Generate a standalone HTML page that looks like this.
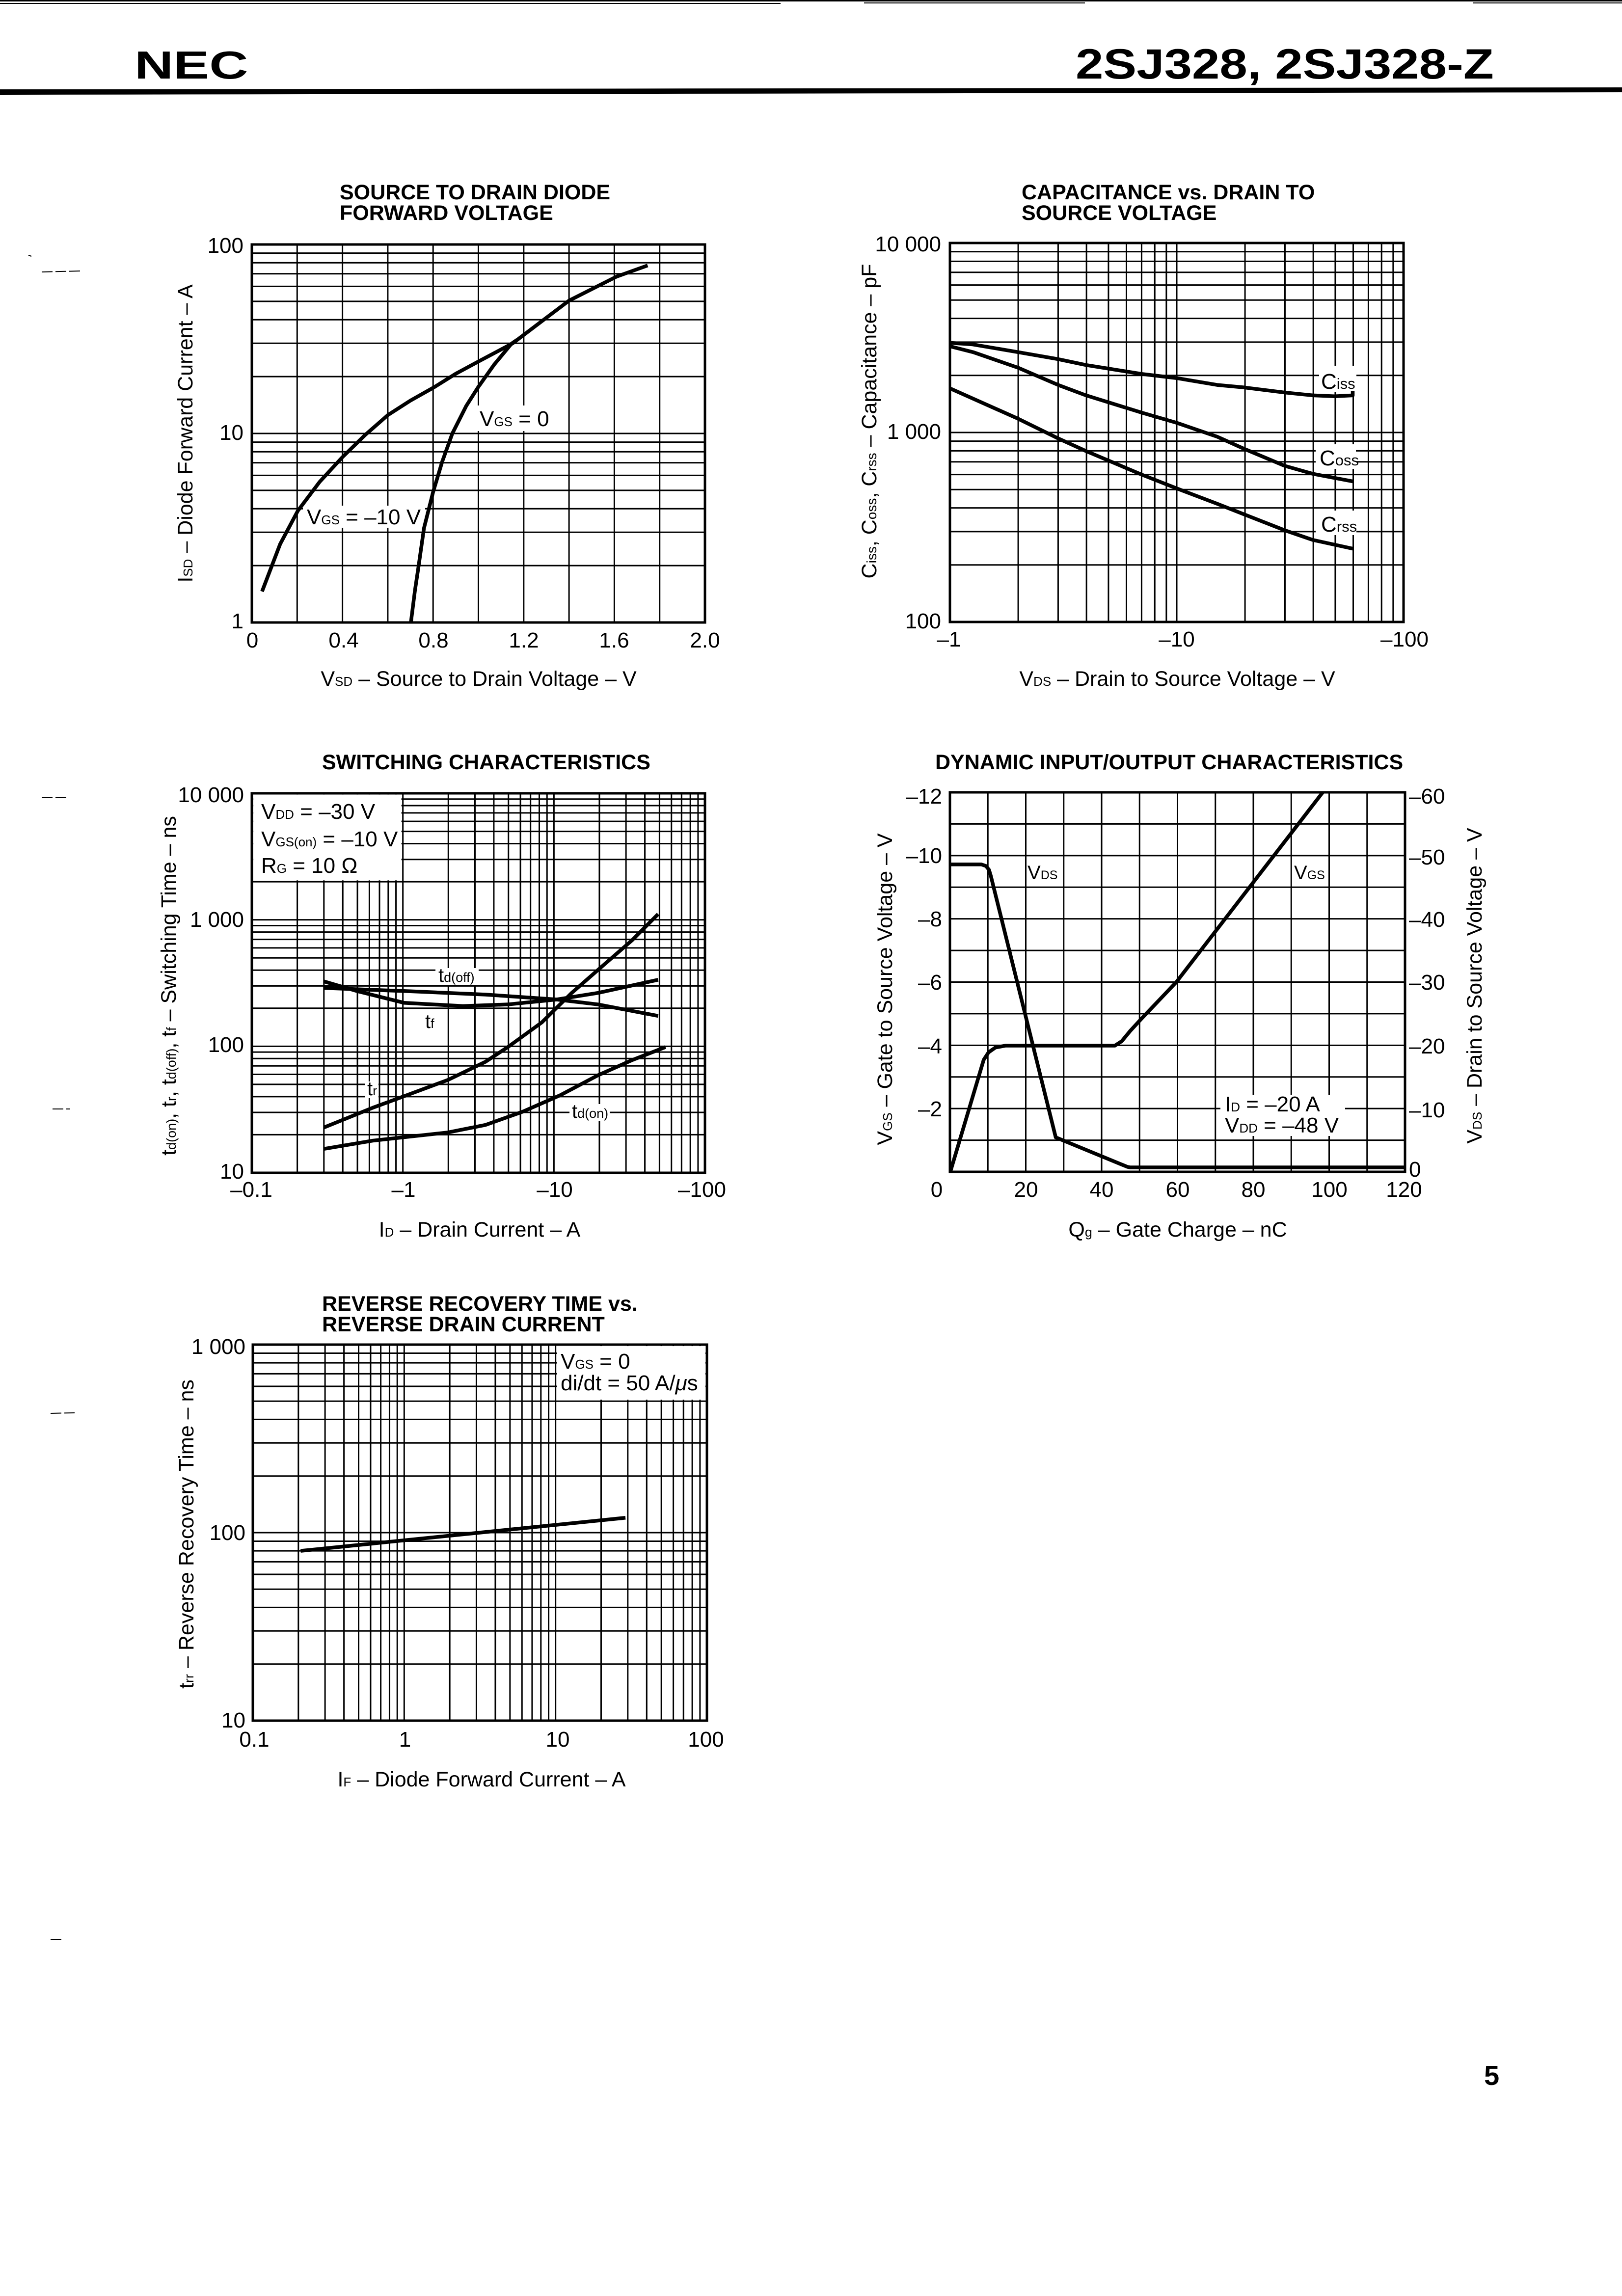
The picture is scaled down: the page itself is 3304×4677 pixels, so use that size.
<!DOCTYPE html>
<html><head><meta charset="utf-8">
<style>
html,body{margin:0;padding:0;background:#fff;}
svg{display:block;}
.g path,.g polyline{vector-effect:non-scaling-stroke;fill:none;stroke:#000;}
text{font-family:"Liberation Sans",Arial,sans-serif;fill:#000;}
</style></head><body>
<svg width="3304" height="4677" viewBox="0 0 3304 4677" xmlns="http://www.w3.org/2000/svg">
<rect width="3304" height="4677" fill="#fff"/>

<!-- header -->
<rect x="0" y="0" width="3304" height="3" fill="#000"/>
<rect x="0" y="6" width="1590" height="2" fill="#000"/>
<rect x="1760" y="5" width="450" height="2" fill="#000"/>
<rect x="3000" y="5" width="304" height="2" fill="#000"/>
<polygon points="0,182 3304,178 3304,188 0,193" fill="#000"/>
<text transform="translate(274,160) scale(1.37,1)" font-size="80" font-weight="bold">NEC</text>
<text transform="translate(2191,160) scale(1.18,1)" font-size="86" font-weight="bold">2SJ328, 2SJ328-Z</text>

<!-- margin marks -->
<g stroke="#000" stroke-width="2" stroke-dasharray="22 6">
<line x1="85" y1="554" x2="163" y2="552"/>
<line x1="85" y1="1625" x2="137" y2="1625"/>
<line x1="107" y1="2259" x2="143" y2="2259"/>
<line x1="103" y1="2879" x2="152" y2="2878"/>
<line x1="103" y1="3951" x2="128" y2="3951"/>
</g>
<line x1="58" y1="520" x2="64" y2="522" stroke="#000" stroke-width="2"/>

<!-- ================= CHART 1 ================= -->
<text x="692" y="406" font-size="43" font-weight="bold">SOURCE TO DRAIN DIODE</text>
<text x="692" y="448" font-size="43" font-weight="bold">FORWARD VOLTAGE</text>
<svg class="g" x="513" y="498" width="923" height="770" viewBox="0 0 10 2" preserveAspectRatio="none" overflow="visible">
<path stroke-width="3" d="M1 0V2M2 0V2M3 0V2M4 0V2M5 0V2M6 0V2M7 0V2M8 0V2M9 0V2"/>
<path stroke-width="3" d="M0 .04576H10M0 .09691H10M0 .1549H10M0 .22185H10M0 .30103H10M0 .39794H10M0 .52288H10M0 .69897H10M0 1H10M0 1.04576H10M0 1.09691H10M0 1.1549H10M0 1.22185H10M0 1.30103H10M0 1.39794H10M0 1.52288H10M0 1.69897H10"/>
</svg>
<rect x="617" y="1030" width="249" height="45" fill="#fff"/>
<rect x="968" y="826" width="182" height="52" fill="#fff"/>
<rect x="513" y="498" width="923" height="770" fill="none" stroke="#000" stroke-width="5"/>
<svg class="g" x="513" y="498" width="923" height="770" viewBox="0 0 10 2" preserveAspectRatio="none" overflow="visible">
<polyline stroke-width="7.5" stroke-linejoin="round" points="0.225,1.836 0.625,1.585 1.015,1.409 1.5,1.255 2.0,1.125 2.5,1.008 3.0,0.903 3.5,0.826 4.025,0.755 4.5,0.684 5.025,0.616 5.75,0.524 6.35,0.415 7.0,0.297 8.05,0.170 8.735,0.111"/>
<polyline stroke-width="7.5" stroke-linejoin="round" points="3.51,2.0 3.6,1.83 3.675,1.71 3.8,1.5 4.0,1.31 4.2,1.15 4.425,1.0 4.73,0.855 5.0,0.753 5.35,0.635 5.73,0.525 5.85,0.505"/>
</svg>
<text x="625" y="1068" font-size="44">V<tspan font-size="26">GS</tspan> = –10 V</text>
<text x="977" y="868" font-size="44">V<tspan font-size="26">GS</tspan> = 0</text>
<g font-size="44" text-anchor="end">
<text x="496" y="515">100</text><text x="496" y="896">10</text><text x="496" y="1280">1</text>
</g>
<g font-size="44" text-anchor="middle">
<text x="514" y="1319">0</text><text x="700" y="1319">0.4</text><text x="883" y="1319">0.8</text><text x="1067" y="1319">1.2</text><text x="1251" y="1319">1.6</text><text x="1436" y="1319">2.0</text>
</g>
<text x="975" y="1397" font-size="43" text-anchor="middle">V<tspan font-size="26">SD</tspan> – Source to Drain Voltage – V</text>
<text transform="translate(392,883) rotate(-90)" font-size="43" text-anchor="middle">I<tspan font-size="26">SD</tspan> – Diode Forward Current – A</text>

<!-- ================= CHART 2 ================= -->
<text x="2081" y="406" font-size="43" font-weight="bold">CAPACITANCE vs. DRAIN TO</text>
<text x="2081" y="448" font-size="43" font-weight="bold">SOURCE VOLTAGE</text>
<svg class="g" x="1935" y="495" width="924" height="772" viewBox="0 0 2 2" preserveAspectRatio="none" overflow="visible">
<path stroke-width="3" d="M.30103 0V2M.47712 0V2M.60206 0V2M.69897 0V2M.77815 0V2M.8451 0V2M.90309 0V2M.95424 0V2M1 0V2M1.30103 0V2M1.47712 0V2M1.60206 0V2M1.69897 0V2M1.77815 0V2M1.8451 0V2M1.90309 0V2M1.95424 0V2"/>
<path stroke-width="3" d="M0 .04576H2M0 .09691H2M0 .1549H2M0 .22185H2M0 .30103H2M0 .39794H2M0 .52288H2M0 .69897H2M0 1H2M0 1.04576H2M0 1.09691H2M0 1.1549H2M0 1.22185H2M0 1.30103H2M0 1.39794H2M0 1.52288H2M0 1.69897H2"/>
</svg>
<rect x="2687" y="745" width="76" height="53" fill="#fff"/>
<rect x="2680" y="905" width="82" height="50" fill="#fff"/>
<rect x="2680" y="1040" width="83" height="50" fill="#fff"/>
<rect x="1935" y="495" width="924" height="772" fill="none" stroke="#000" stroke-width="5"/>
<svg class="g" x="1935" y="495" width="924" height="772" viewBox="0 0 2 2" preserveAspectRatio="none" overflow="visible">
<polyline stroke-width="7.5" stroke-linejoin="round" points="0,0.527 0.1,0.535 0.3,0.576 0.477,0.613 0.6,0.644 0.845,0.691 1.0,0.713 1.178,0.749 1.295,0.762 1.476,0.789 1.6,0.804 1.697,0.809 1.776,0.804 1.776,0.78"/>
<polyline stroke-width="7.5" stroke-linejoin="round" points="0,0.545 0.102,0.576 0.3,0.658 0.477,0.749 0.6,0.804 0.845,0.895 1.0,0.949 1.178,1.022 1.295,1.085 1.476,1.176 1.6,1.218 1.776,1.258"/>
<polyline stroke-width="7.5" stroke-linejoin="round" points="0,0.767 0.3,0.927 0.477,1.031 0.6,1.098 0.845,1.222 1.0,1.295 1.178,1.376 1.295,1.431 1.476,1.516 1.6,1.567 1.776,1.613"/>
</svg>
<text x="2691" y="792" font-size="44">C<tspan font-size="31">iss</tspan></text>
<text x="2688" y="948" font-size="44">C<tspan font-size="31">oss</tspan></text>
<text x="2691" y="1083" font-size="44">C<tspan font-size="31">rss</tspan></text>
<g font-size="44" text-anchor="end">
<text x="1917" y="512">10 000</text><text x="1917" y="894">1 000</text><text x="1917" y="1280">100</text>
</g>
<g font-size="44" text-anchor="middle">
<text x="1933" y="1317">–1</text><text x="2397" y="1317">–10</text><text x="2861" y="1317">–100</text>
</g>
<text x="2398" y="1397" font-size="43" text-anchor="middle">V<tspan font-size="26">DS</tspan> – Drain to Source Voltage – V</text>
<text transform="translate(1785,858) rotate(-90)" font-size="43" text-anchor="middle">C<tspan font-size="28">iss</tspan>,  C<tspan font-size="28">oss</tspan>,  C<tspan font-size="28">rss</tspan> – Capacitance – pF</text>

<!-- ================= CHART 3 ================= -->
<text x="656" y="1567" font-size="43" font-weight="bold">SWITCHING CHARACTERISTICS</text>
<svg class="g" x="513" y="1616" width="923" height="773" viewBox="0 0 3 3" preserveAspectRatio="none" overflow="visible">
<path stroke-width="3" d="M.30103 0V3M.47712 0V3M.60206 0V3M.69897 0V3M.77815 0V3M.8451 0V3M.90309 0V3M.95424 0V3M1 0V3M1.30103 0V3M1.47712 0V3M1.60206 0V3M1.69897 0V3M1.77815 0V3M1.8451 0V3M1.90309 0V3M1.95424 0V3M2 0V3M2.30103 0V3M2.47712 0V3M2.60206 0V3M2.69897 0V3M2.77815 0V3M2.8451 0V3M2.90309 0V3M2.95424 0V3"/>
<path stroke-width="3" d="M0 .04576H3M0 .09691H3M0 .1549H3M0 .22185H3M0 .30103H3M0 .39794H3M0 .52288H3M0 .69897H3M0 1H3M0 1.04576H3M0 1.09691H3M0 1.1549H3M0 1.22185H3M0 1.30103H3M0 1.39794H3M0 1.52288H3M0 1.69897H3M0 2H3M0 2.04576H3M0 2.09691H3M0 2.1549H3M0 2.22185H3M0 2.30103H3M0 2.39794H3M0 2.52288H3M0 2.69897H3"/>
<rect x="0.01" y="0.01" width="0.98" height="0.678" fill="#fff"/>
</svg>
<rect x="887" y="1972" width="88" height="35" fill="#fff"/>
<rect x="861" y="2066" width="32" height="34" fill="#fff"/>
<rect x="743" y="2203" width="28" height="34" fill="#fff"/>
<rect x="1160" y="2249" width="82" height="35" fill="#fff"/>
<rect x="513" y="1616" width="923" height="773" fill="none" stroke="#000" stroke-width="5"/>
<svg class="g" x="513" y="1616" width="923" height="773" viewBox="0 0 3 3" preserveAspectRatio="none" overflow="visible">
<polyline stroke-width="7.5" stroke-linejoin="round" points="0.477,1.539 1.049,1.565 1.546,1.591 2.018,1.630 2.292,1.669 2.690,1.760"/>
<polyline stroke-width="7.5" stroke-linejoin="round" points="0.477,1.487 0.701,1.565 1.007,1.656 1.397,1.682 1.695,1.669 2.018,1.630 2.292,1.578 2.690,1.474"/>
<polyline stroke-width="7.5" stroke-linejoin="round" points="0.477,2.642 0.800,2.486 1.007,2.395 1.298,2.266 1.546,2.123 1.695,2.006 1.919,1.812 2.118,1.578 2.292,1.396 2.516,1.163 2.690,0.955"/>
<polyline stroke-width="7.5" stroke-linejoin="round" points="0.477,2.811 0.800,2.746 1.298,2.681 1.546,2.622 1.795,2.516 2.043,2.386 2.292,2.229 2.516,2.110 2.739,2.006"/>
</svg>
<text x="532" y="1668" font-size="44">V<tspan font-size="26">DD</tspan> = –30 V</text>
<text x="532" y="1724" font-size="44">V<tspan font-size="26">GS(on)</tspan> = –10 V</text>
<text x="532" y="1778" font-size="44">R<tspan font-size="26">G</tspan> = 10 Ω</text>
<text x="893" y="2000" font-size="40">t<tspan font-size="27">d(off)</tspan></text>
<text x="866" y="2094" font-size="40">t<tspan font-size="27">f</tspan></text>
<text x="748" y="2231" font-size="40">t<tspan font-size="27">r</tspan></text>
<text x="1165" y="2277" font-size="40">t<tspan font-size="27">d(on)</tspan></text>
<g font-size="44" text-anchor="end">
<text x="497" y="1634">10 000</text><text x="497" y="1888">1 000</text><text x="497" y="2143">100</text><text x="497" y="2401">10</text>
</g>
<g font-size="44" text-anchor="middle">
<text x="512" y="2438">–0.1</text><text x="822" y="2438">–1</text><text x="1130" y="2438">–10</text><text x="1430" y="2438">–100</text>
</g>
<text x="977" y="2519" font-size="43" text-anchor="middle">I<tspan font-size="26">D</tspan> – Drain Current – A</text>
<text transform="translate(358,2008) rotate(-90)" font-size="43" text-anchor="middle">t<tspan font-size="27">d(on)</tspan>,  t<tspan font-size="27">r</tspan>,  t<tspan font-size="27">d(off)</tspan>,  t<tspan font-size="27">f</tspan> – Switching Time – ns</text>

<!-- ================= CHART 4 ================= -->
<text x="1905" y="1567" font-size="43" font-weight="bold">DYNAMIC INPUT/OUTPUT CHARACTERISTICS</text>
<svg class="g" x="1935" y="1614" width="927" height="773" viewBox="0 0 120 12" preserveAspectRatio="none" overflow="visible">
<path stroke-width="3" d="M10 0V12M20 0V12M30 0V12M40 0V12M50 0V12M60 0V12M70 0V12M80 0V12M90 0V12M100 0V12M110 0V12"/>
<path stroke-width="3" d="M0 1H120M0 2H120M0 3H120M0 4H120M0 5H120M0 6H120M0 7H120M0 8H120M0 9H120M0 10H120M0 11H120"/>
</svg>
<rect x="2486" y="2230" width="254" height="84" fill="#fff"/>
<rect x="1935" y="1614" width="927" height="773" fill="none" stroke="#000" stroke-width="5"/>
<svg class="g" x="1935" y="1614" width="927" height="773" viewBox="0 0 120 12" preserveAspectRatio="none" overflow="visible">
<polyline stroke-width="7.5" stroke-linejoin="round" points="0,2.28 8.3,2.28 9.5,2.33 10.3,2.45 10.8,2.65 27.9,10.91 46.8,11.844 47.5,11.86 120,11.86"/>
<polyline stroke-width="7.5" stroke-linejoin="round" points="0.1,12 8.9,8.46 10.2,8.22 12,8.07 14.7,8.01 43.5,8.01 45.3,7.87 47.5,7.55 50.5,7.16 59.7,6.0 98.3,0"/>
</svg>
<text x="2093" y="1791" font-size="40">V<tspan font-size="25">DS</tspan></text>
<text x="2636" y="1791" font-size="40">V<tspan font-size="25">GS</tspan></text>
<text x="2495" y="2264" font-size="44">I<tspan font-size="26">D</tspan> = –20 A</text>
<text x="2495" y="2307" font-size="44">V<tspan font-size="26">DD</tspan> = –48 V</text>
<g font-size="44" text-anchor="end">
<text x="1919" y="1637">–12</text><text x="1919" y="1758">–10</text><text x="1919" y="1887">–8</text><text x="1919" y="2016">–6</text><text x="1919" y="2146">–4</text><text x="1919" y="2274">–2</text>
</g>
<g font-size="44">
<text x="2870" y="1637">–60</text><text x="2870" y="1761">–50</text><text x="2870" y="1888">–40</text><text x="2870" y="2016">–30</text><text x="2870" y="2146">–20</text><text x="2870" y="2276">–10</text><text x="2870" y="2397">0</text>
</g>
<g font-size="44" text-anchor="middle">
<text x="1908" y="2438">0</text><text x="2090" y="2438">20</text><text x="2244" y="2438">40</text><text x="2399" y="2438">60</text><text x="2553" y="2438">80</text><text x="2708" y="2438">100</text><text x="2860" y="2438">120</text>
</g>
<text x="2399" y="2519" font-size="43" text-anchor="middle">Q<tspan font-size="27">g</tspan> – Gate Charge – nC</text>
<text transform="translate(1817,2015) rotate(-90)" font-size="43" text-anchor="middle">V<tspan font-size="26">GS</tspan> – Gate to Source Voltage – V</text>
<text transform="translate(3018,2008) rotate(-90)" font-size="43" text-anchor="middle">V<tspan font-size="26">DS</tspan> – Drain to Source Voltage – V</text>

<!-- ================= CHART 5 ================= -->
<text x="656" y="2670" font-size="43" font-weight="bold">REVERSE RECOVERY TIME vs.</text>
<text x="656" y="2712" font-size="43" font-weight="bold">REVERSE DRAIN CURRENT</text>
<svg class="g" x="515" y="2739" width="925" height="766" viewBox="0 0 3 2" preserveAspectRatio="none" overflow="visible">
<path stroke-width="3" d="M.30103 0V2M.47712 0V2M.60206 0V2M.69897 0V2M.77815 0V2M.8451 0V2M.90309 0V2M.95424 0V2M1 0V2M1.30103 0V2M1.47712 0V2M1.60206 0V2M1.69897 0V2M1.77815 0V2M1.8451 0V2M1.90309 0V2M1.95424 0V2M2 0V2M2.30103 0V2M2.47712 0V2M2.60206 0V2M2.69897 0V2M2.77815 0V2M2.8451 0V2M2.90309 0V2M2.95424 0V2"/>
<path stroke-width="3" d="M0 .04576H3M0 .09691H3M0 .1549H3M0 .22185H3M0 .30103H3M0 .39794H3M0 .52288H3M0 .69897H3M0 1H3M0 1.04576H3M0 1.09691H3M0 1.1549H3M0 1.22185H3M0 1.30103H3M0 1.39794H3M0 1.52288H3M0 1.69897H3"/>
<rect x="2.01" y="0.008" width="0.98" height="0.285" fill="#fff"/>
</svg>
<rect x="515" y="2739" width="925" height="766" fill="none" stroke="#000" stroke-width="5"/>
<svg class="g" x="515" y="2739" width="925" height="766" viewBox="0 0 3 2" preserveAspectRatio="none" overflow="visible">
<polyline stroke-width="7.5" points="0.316,1.097 2.462,0.921"/>
</svg>
<text x="1142" y="2788" font-size="44">V<tspan font-size="26">GS</tspan> = 0</text>
<text x="1142" y="2832" font-size="44">di/dt = 50 A/<tspan font-style="italic">μ</tspan>s</text>
<g font-size="44" text-anchor="end">
<text x="500" y="2758">1 000</text><text x="500" y="3137">100</text><text x="500" y="3519">10</text>
</g>
<g font-size="44" text-anchor="middle">
<text x="518" y="3558">0.1</text><text x="825" y="3558">1</text><text x="1136" y="3558">10</text><text x="1438" y="3558">100</text>
</g>
<text x="981" y="3639" font-size="43" text-anchor="middle">I<tspan font-size="26">F</tspan> – Diode Forward Current – A</text>
<text transform="translate(394,3125) rotate(-90)" font-size="43" text-anchor="middle">t<tspan font-size="27">rr</tspan> – Reverse Recovery Time – ns</text>

<!-- page number -->
<text x="3023" y="4247" font-size="56" font-weight="bold">5</text>
</svg>
</body></html>
